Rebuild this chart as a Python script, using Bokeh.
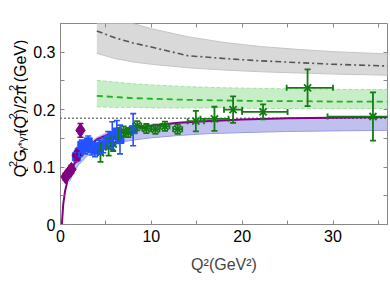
import numpy as np
from bokeh.plotting import figure
from bokeh.layouts import row
from bokeh.models import (ColumnDataSource, Range1d, FixedTicker, LinearAxis,
                          Whisker, TeeHead, CustomJSTickFormatter)
from bokeh.core.properties import value
from bokeh.embed import file_html
from bokeh.resources import INLINE

# ---------------- data ----------------
# purple model curve
curve_x = [0.15, 0.3, 0.5, 0.75, 1.0, 1.5, 2.0, 2.5, 3.0, 4.0, 5.0, 6.5, 8.0,
           10.0, 13.0, 16.0, 20.0, 25.0, 30.0, 36.0]
curve_y = [0.0, 0.035, 0.058, 0.075, 0.088, 0.105, 0.118, 0.127, 0.135, 0.148,
           0.155, 0.163, 0.168, 0.172, 0.177, 0.180, 0.183, 0.185, 0.186, 0.187]

# blue band around the curve
bband_x = [1.0, 1.5, 2.0, 3.0, 4.0, 5.0, 6.5, 8.0, 10.0, 13.0, 16.0, 20.0, 25.0, 30.0, 36.0]
bband_up = [0.095, 0.112, 0.124, 0.141, 0.153, 0.160, 0.167, 0.171, 0.175, 0.179,
            0.182, 0.184, 0.186, 0.187, 0.188]
bband_lo = [0.075, 0.092, 0.104, 0.120, 0.130, 0.137, 0.143, 0.147, 0.151, 0.155,
            0.158, 0.160, 0.162, 0.163, 0.164]

# green band + dashed line
gband_x = [4, 6, 8, 10, 14, 18, 22, 26, 30, 36]
gband_mid = [0.224, 0.222, 0.220, 0.219, 0.217, 0.216, 0.215, 0.215, 0.214, 0.214]
gband_up = [0.251, 0.248, 0.245, 0.243, 0.240, 0.238, 0.237, 0.236, 0.235, 0.235]
gband_lo = [0.205, 0.204, 0.204, 0.203, 0.203, 0.203, 0.202, 0.202, 0.202, 0.202]

# grey band + dash-dot line
kband_x = [4, 6, 8, 10, 14, 18, 22, 26, 30, 36]
kband_mid = [0.337, 0.325, 0.316, 0.309, 0.294, 0.289, 0.285, 0.282, 0.279, 0.276]
kband_up = [0.375, 0.360, 0.350, 0.341, 0.327, 0.317, 0.310, 0.305, 0.301, 0.297]
kband_lo = [0.298, 0.289, 0.283, 0.279, 0.273, 0.269, 0.266, 0.264, 0.262, 0.260]

# asymptotic limit
limit_x = [0, 36]
limit_y = [0.185, 0.185]

# purple diamonds
dia_x = [0.55, 0.9, 1.2, 1.8, 2.2]
dia_y = [0.083, 0.090, 0.096, 0.120, 0.164]
dia_e = [0.006, 0.006, 0.007, 0.008, 0.012]

# blue squares
sq_x = [1.75, 2.05, 2.35, 2.7, 3.05, 3.45, 3.8, 4.25, 4.7, 5.25, 5.7, 6.2, 6.55, 8.0]
sq_y = [0.118, 0.126, 0.138, 0.133, 0.144, 0.132, 0.130, 0.135, 0.138, 0.148,
        0.155, 0.161, 0.148, 0.165]
sq_e = [0.008, 0.008, 0.009, 0.010, 0.010, 0.011, 0.012, 0.012, 0.013, 0.014,
        0.024, 0.020, 0.025, 0.028]

# green crosses
gr_x = [4.4, 5.3, 5.8, 6.4, 6.95, 7.45, 8.45, 9.45, 10.45, 11.5, 12.9, 14.9,
        16.95, 19.0, 22.3, 27.2, 34.4]
gr_y = [0.125, 0.135, 0.140, 0.158, 0.162, 0.160, 0.172, 0.167, 0.166, 0.171,
        0.166, 0.180, 0.184, 0.200, 0.196, 0.238, 0.188]
gr_e = [0.016, 0.015, 0.012, 0.010, 0.009, 0.008, 0.008, 0.008, 0.008, 0.008,
        0.008, 0.018, 0.021, 0.023, 0.013, 0.032, 0.042]
gr_xlo = [4.15, 5.05, 5.55, 6.15, 6.7, 7.0, 8.0, 9.0, 10.0, 11.0, 12.4, 14.0,
          15.4, 18.0, 20.0, 24.9, 29.4]
gr_xhi = [4.65, 5.55, 6.05, 6.65, 7.2, 7.9, 8.9, 9.9, 10.9, 12.0, 13.4, 15.8,
          18.5, 20.0, 25.0, 30.0, 40.0]

x_ticks = [0, 10, 20, 30]
x_minor = [5, 15, 25, 35]
y_ticks = [0, 0.1, 0.2, 0.3]
y_minor = [0.05, 0.15, 0.25]

XR = (0, 36)
YR = (0, 0.35)

FONT = "Liberation Sans"
GRAY = "#888888"

# ---------------- layout sizes ----------------
TOTAL_W, TOTAL_H = 390, 281
LW = 28                      # narrow panel holding the rotated y label
W = TOTAL_W - LW
ML, MR, MT, MB = 60 - LW, 3, 23, 57

p = figure(width=W, height=TOTAL_H, output_backend="svg", toolbar_location=None,
           x_range=Range1d(*XR), y_range=Range1d(*YR),
           min_border_left=ML, min_border_right=MR, min_border_top=MT,
           min_border_bottom=MB)
p.grid.visible = False
p.background_fill_color = "white"
p.border_fill_color = "white"
p.outline_line_color = GRAY
p.outline_line_width = 1


def style_axis(ax, labels=True):
    ax.axis_line_color = None
    ax.major_tick_line_color = GRAY
    ax.minor_tick_line_color = GRAY
    ax.major_tick_in = 4
    ax.major_tick_out = 0
    ax.minor_tick_in = 4
    ax.minor_tick_out = 0
    ax.major_label_text_font = FONT
    ax.major_label_text_color = "black"
    ax.major_label_text_font_size = "16px"
    if labels:
        ax.major_label_standoff = 5
    else:
        ax.formatter = CustomJSTickFormatter(code="return ''")
        ax.major_label_standoff = 0


p.xaxis.ticker = FixedTicker(ticks=x_ticks, minor_ticks=x_minor)
p.yaxis.ticker = FixedTicker(ticks=y_ticks, minor_ticks=y_minor)
p.yaxis.major_label_overrides = {0: "0", 0.1: "0.1", 0.2: "0.2", 0.3: "0.3"}
style_axis(p.xaxis[0])
style_axis(p.yaxis[0])
p.xaxis.axis_label = "Q²(GeV²)"
p.xaxis.axis_label_text_font = FONT
p.xaxis.axis_label_text_font_size = "16px"
p.xaxis.axis_label_text_font_style = "normal"
p.xaxis.axis_label_standoff = 11
p.yaxis.axis_label = None

top = LinearAxis(ticker=FixedTicker(ticks=x_ticks, minor_ticks=x_minor))
style_axis(top, labels=False)
p.add_layout(top, "above")
right = LinearAxis(ticker=FixedTicker(ticks=y_ticks, minor_ticks=y_minor))
style_axis(right, labels=False)
p.add_layout(right, "right")

# grey band
p.varea(x=kband_x, y1=kband_lo, y2=kband_up, fill_color="#d9d9d9", fill_alpha=1)
p.line(kband_x, kband_up, line_color="#c4c4c4", line_width=1)
p.line(kband_x, kband_lo, line_color="#c4c4c4", line_width=1)
p.line(kband_x, kband_mid, line_color="#555555", line_width=1.6, line_dash="6 3 2 3")

# green band
p.varea(x=gband_x, y1=gband_lo, y2=gband_up, fill_color="#c8eec8", fill_alpha=1)
p.line(gband_x, gband_up, line_color="#a2e0a2", line_width=1, line_dash="4 2")
p.line(gband_x, gband_lo, line_color="#a2e0a2", line_width=1, line_dash="4 2")
p.line(gband_x, gband_mid, line_color="#22b022", line_width=1.8, line_dash="6 4")

# blue band
p.varea(x=bband_x, y1=bband_lo, y2=bband_up, fill_color="#c0c0ee", fill_alpha=1)
p.line(bband_x, bband_lo, line_color="#9a9ae6", line_width=1)

# dotted limit
p.line(limit_x, limit_y, line_color="black", line_width=1.5, line_dash="1 3")

# purple curve
p.line(curve_x, curve_y, line_color="#800080", line_width=2)

GREEN = "#137a13"
BLUE = "#2353ff"
PURPLE = "#800080"


def bars(base, lo, hi, color, dim, lw):
    src = ColumnDataSource(dict(b=base, lo=lo, hi=hi))
    w = Whisker(source=src, base="b", lower="lo", upper="hi", dimension=dim,
                line_color=color, line_width=lw, level="glyph",
                upper_head=TeeHead(size=6, line_color=color, line_width=lw),
                lower_head=TeeHead(size=6, line_color=color, line_width=lw))
    p.add_layout(w)


bars(gr_x, [a - b for a, b in zip(gr_y, gr_e)], [a + b for a, b in zip(gr_y, gr_e)],
     GREEN, "height", 1.8)
bars(gr_y, gr_xlo, gr_xhi, GREEN, "width", 1.8)
p.scatter(gr_x, gr_y, marker="x", size=10, line_color=GREEN, line_width=1.8)

bars(sq_x, [a - b for a, b in zip(sq_y, sq_e)], [a + b for a, b in zip(sq_y, sq_e)],
     BLUE, "height", 1.6)
p.scatter(sq_x, sq_y, marker="square", size=8, fill_color=BLUE, line_color=BLUE)

bars(dia_x, [a - b for a, b in zip(dia_y, dia_e)], [a + b for a, b in zip(dia_y, dia_e)],
     PURPLE, "height", 1.6)
p.scatter(dia_x, dia_y, marker="diamond", size=14, fill_color=PURPLE, line_color=PURPLE)

# ---------------- rotated y-axis label, built from pieces ----------------
EM = {"Q": 0.778, "G": 0.778, "2": 0.556, "(": 0.333, ")": 0.333, "/": 0.278,
      "π": 0.58, "γ": 0.50, "*": 0.389, " ": 0.278, "e": 0.556, "V": 0.667}
ylab_text = ["Q", "2", "G", "γ*γπ", "(Q", "2", ")/2π", "2", "(GeV)"]
ylab_size = [16, 11, 16, 11, 16, 11, 16, 11, 16]
ylab_kind = [0, 1, 0, -1, 0, 1, 0, 1, 0]     # 1 superscript, -1 subscript
ylab_gap = [0, 0, 0, 0, 0, 0, 0, 0, 4.5]     # extra space before a piece

lab = figure(width=LW, height=TOTAL_H, output_backend="svg", toolbar_location=None,
             x_range=Range1d(0, LW), y_range=Range1d(0, TOTAL_H),
             x_axis_type=None, y_axis_type=None,
             min_border_left=0, min_border_right=0, min_border_top=0,
             min_border_bottom=0)
lab.grid.visible = False
lab.outline_line_color = None
lab.background_fill_color = "white"
lab.border_fill_color = "white"

adv = [sum(EM[c] for c in t) * s for t, s in zip(ylab_text, ylab_size)]
start_y, end_y = 215.0, 33.0
base_main, base_sup, base_sub = 19.5, 12.0, 21.5
k = (start_y - end_y) / (sum(adv) + sum(ylab_gap))
xs, ys = [], []
pos = start_y
for a, kind, g in zip(adv, ylab_kind, ylab_gap):
    pos -= g * k
    xs.append(base_sup if kind > 0 else (base_sub if kind < 0 else base_main))
    ys.append(TOTAL_H - pos)
    pos -= a * k
src = ColumnDataSource(dict(x=xs, y=ys, t=ylab_text,
                            fs=[f"{s}px" for s in ylab_size]))
lab.text(x="x", y="y", text="t", source=src, angle=np.pi / 2,
         text_font=value(FONT), text_font_size="fs", text_align="left",
         text_baseline="alphabetic", text_color="black")

layout = row(lab, p, spacing=0)
open("out.html", "w").write(file_html(layout, INLINE))
